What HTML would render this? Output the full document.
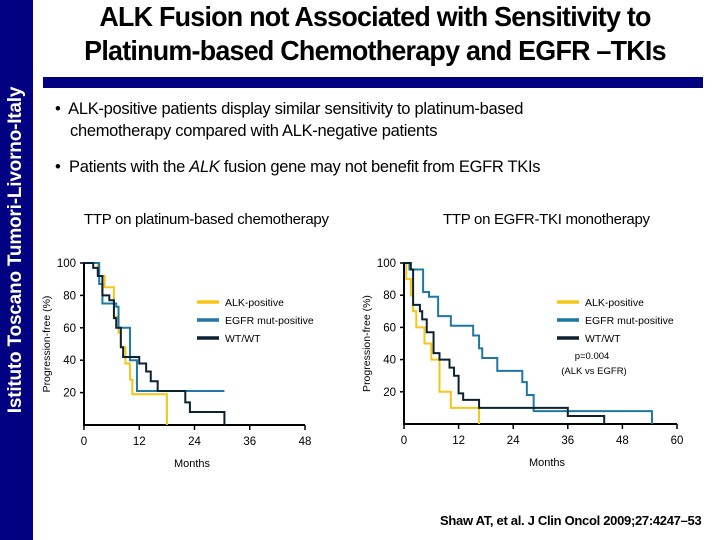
<!DOCTYPE html>
<html><head><meta charset="utf-8"><style>
body{margin:0;width:720px;height:540px;background:#fff;overflow:hidden;position:relative;font-family:"Liberation Sans",sans-serif;}
.side{position:absolute;left:0;top:0;width:33px;height:540px;background:#000080;}
.side span{position:absolute;left:16px;top:250px;transform:translate(-50%,-50%) rotate(-90deg);white-space:nowrap;color:#fff;font-weight:bold;font-size:19px;letter-spacing:-0.2px;}
.title{position:absolute;left:40px;width:670px;top:0;text-align:center;font-weight:bold;font-size:28px;line-height:34px;letter-spacing:-0.8px;color:#000;transform:scaleX(0.96);}
.bar{position:absolute;left:43px;top:77px;width:660px;height:11px;background:#000080;}
.b{position:absolute;font-size:16.5px;color:#000;letter-spacing:-0.3px;}
</style></head><body>
<div class="side"><span>Istituto Toscano Tumori-Livorno-Italy</span></div>
<div class="title">ALK Fusion not Associated with Sensitivity to<br>Platinum-based Chemotherapy and EGFR –TKIs</div>
<div class="bar"></div>
<div class="b" style="left:55px;top:98px;line-height:22px">•&nbsp; ALK-positive patients display similar sensitivity to platinum-based<br><span style="padding-left:15px">chemotherapy compared with ALK-negative patients</span></div>
<div class="b" style="left:55px;top:158px">•&nbsp; Patients with the <i>ALK</i> fusion gene may not benefit from EGFR TKIs</div>
<div class="b" style="left:84px;top:211px;font-size:15px">TTP on platinum-based chemotherapy</div>
<div class="b" style="left:443px;top:211px;font-size:15px">TTP on EGFR-TKI monotherapy</div>
<div class="b" style="left:440px;top:513px;font-size:13px;font-weight:bold">Shaw AT, et al. J Clin Oncol 2009;27:4247–53</div>
<svg id="chart" width="720" height="540" style="position:absolute;left:0;top:0"></svg>
<script>
const leftTicksX=[0,12,24,36,48];
const rightTicksX=[0,12,24,36,48,60];
const ticksY=[20,40,60,80,100];
const seriesNames=["ALK-positive","EGFR mut-positive","WT/WT"];
const leftALK=[[0,100],[3,92],[4.5,85],[6.5,67],[7.5,57],[8,48],[9,38],[10,28],[10.5,19],[18,0]];
const leftEGFR=[[0,100],[3.3,87],[4,75],[7,73],[7.5,60],[10,40],[11.5,21],[30.5,21]];
const leftWT=[[0,100],[2,97],[3,92],[4,80],[5.5,77],[6.5,66],[7,60],[8,48],[8.5,42],[12,38],[13.5,33],[14.5,27],[16,21],[22,14],[23,8],[30.5,0]];
const rightALK=[[0,100],[0.5,90],[1.5,80],[2,70],[2.7,60],[4.5,50],[6,40],[7.8,20],[10.3,10],[16.5,0]];
const rightEGFR=[[0,100],[1.2,96],[4.2,82],[5.5,79],[7.5,67],[10.3,61],[15.2,55],[16.5,47],[17.2,41],[20.5,33],[26,26],[27,18],[28.5,8],[54.5,8],[54.5,0]];
const rightWT=[[0,100],[1.5,96],[2,74],[3.5,70],[4,65],[5,57],[6.5,44],[7.8,40],[10,35],[11,30],[12,19],[13,15],[16.5,10],[36,5],[44,0]];
const colors=["#f5c518","#1f78a4","#0b2233"];
const svg=document.getElementById('chart');
const NS="http://www.w3.org/2000/svg";
function mk(tag,attrs,parent){const e=document.createElementNS(NS,tag);for(const k in attrs)e.setAttribute(k,attrs[k]);(parent||svg).appendChild(e);return e;}
function panel(cfg){
  const g=mk('g',{});
  
  
  const sx=v=>cfg.x0+(v-0)/cfg.xmax*(cfg.x1-cfg.x0);
  const sy=v=>cfg.y0-v/100*(cfg.y0-cfg.y1);
  const ax=mk('path',{d:`M${sx(0)},${sy(100)}V${cfg.y0}H${cfg.x1}`,fill:'none',stroke:'#000','stroke-width':2},g);
  
  
  cfg.xt.forEach(t=>{
    mk('line',{x1:sx(t),x2:sx(t),y1:cfg.y0,y2:cfg.y0+5,stroke:'#000','stroke-width':1.5},g);
    const tx=mk('text',{x:sx(t),y:cfg.y0+20,'text-anchor':'middle','font-size':11.5,'font-family':'Liberation Sans'},g);
    tx.textContent=t;
    
    
  });
  ticksY.forEach(t=>{
    mk('line',{x1:sx(0)-4,x2:sx(0),y1:sy(t),y2:sy(t),stroke:'#000','stroke-width':1.5},g);
    const tx=mk('text',{x:sx(0)-8,y:sy(t)+4,'text-anchor':'end','font-size':11.5,'font-family':'Liberation Sans'},g);
    tx.textContent=t;
    
    
  });
  const yl=mk('text',{transform:`translate(${cfg.ylx},${(cfg.y0+cfg.y1)/2}) rotate(-90)`,'text-anchor':'middle','font-size':10.5,'font-family':'Liberation Sans'},g);
  yl.textContent='Progression-free (%)';
  
  
  const xl=mk('text',{x:cfg.xlx,y:cfg.y0+42,'text-anchor':'middle','font-size':11,'font-family':'Liberation Sans'},g);
  xl.textContent='Months';
  
  
  cfg.series.forEach((s,i)=>{
    let d=`M${sx(s[0][0])},${sy(s[0][1])}`;
    for(let k=1;k<s.length;k++){d+=`H${sx(s[k][0])}V${sy(s[k][1])}`;}
    const p=mk('path',{d,fill:'none',stroke:colors[i],'stroke-width':2},g);
    
    
  });
  seriesNames.forEach((n,i)=>{
    const ly=cfg.legY+i*18;
    const ln=mk('line',{x1:cfg.legX,x2:cfg.legX+22,y1:ly,y2:ly,stroke:colors[i],'stroke-width':3.5},g);
    
    
    const t=mk('text',{x:cfg.legX+28,y:ly+4,'font-size':10.5,'font-family':'Liberation Sans'},g);
    t.textContent=n;
    
    
  });
}
panel({name:'left-chart',x0:84,x1:305,xmax:48,y0:425,y1:263,xt:leftTicksX,ylx:50,xlx:192,legX:197,legY:302,series:[leftALK,leftEGFR,leftWT]});
panel({name:'right-chart',x0:404,x1:677,xmax:60,y0:424,y1:263,xt:rightTicksX,ylx:370,xlx:547,legX:557,legY:302,series:[rightALK,rightEGFR,rightWT]});
const p1=mk('text',{x:592,y:359,'text-anchor':'middle','font-size':9.5,'font-family':'Liberation Sans'});
p1.textContent='p=0.004';


const p2=mk('text',{x:594,y:374,'text-anchor':'middle','font-size':9.5,'font-family':'Liberation Sans'});
p2.textContent='(ALK vs EGFR)';


</script>
</body></html>
